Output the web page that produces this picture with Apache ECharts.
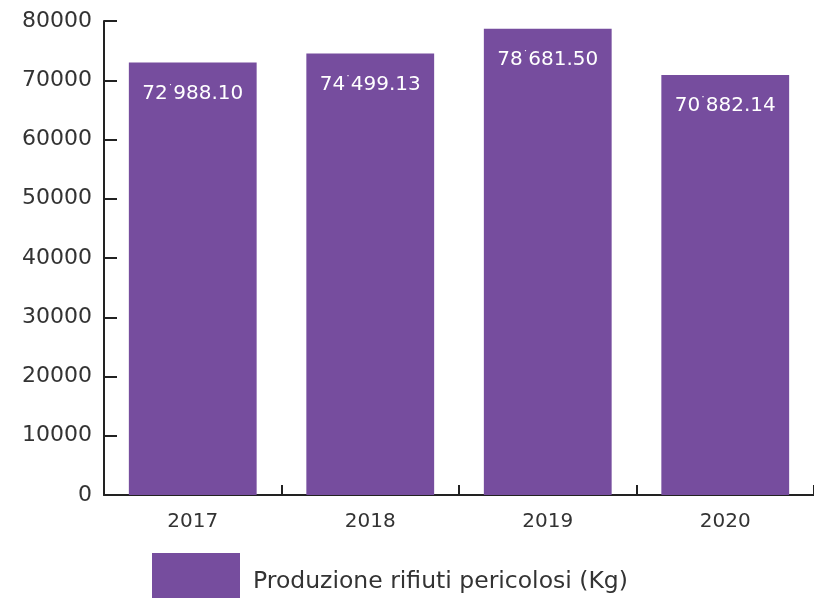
<!DOCTYPE html>
<html><head><meta charset="utf-8">
<script src="https://cdn.jsdelivr.net/npm/echarts@6/dist/echarts.min.js"></script>
<style>html,body{margin:0;padding:0;background:#fff}#c{width:814px;height:598px}</style>
</head><body><div id="c"></div>
<script>
const categories = ['2017', '2018', '2019', '2020'];
const values = [72988.10, 74499.13, 78681.50, 70882.14];
const seriesName = 'Produzione rifiuti pericolosi (Kg)';
const yTicks = [0, 10000, 20000, 30000, 40000, 50000, 60000, 70000, 80000];

function fmt(v) {
  const parts = v.toFixed(2).split('.');
  const intPart = parts[0].replace(/\B(?=(\d{3})+(?!\d))/g, '{s|\u02D9}');
  return intPart + '.' + parts[1];
}

const chart = echarts.init(document.getElementById('c'), null, {renderer: 'canvas'});
const font = 'DejaVu Sans';
chart.setOption({
  animation: false,
  textStyle: {fontFamily: font},
  grid: {left: 104, right: 0, top: 21, bottom: 103, containLabel: false},
  legend: {
    show: true, left: 152, top: 553, itemWidth: 88, itemHeight: 45, padding: 0, itemGap: 8,
    icon: 'rect',
    formatter: name => '{p|}{a|' + name + '}',
    textStyle: {
      fontSize: 23.5, color: '#333', fontFamily: font,
      rich: {
        p: {height: 36, width: 8},
        a: {fontSize: 23.5, color: '#333', fontFamily: font, verticalAlign: 'bottom', lineHeight: 26}
      }
    },
    data: [seriesName]
  },
  xAxis: {
    type: 'category', data: categories,
    axisLine: {lineStyle: {color: '#222', width: 2}},
    axisTick: {show: true, inside: true, length: 10, lineStyle: {color: '#222', width: 2}},
    axisLabel: {fontSize: 20, color: '#333', margin: 17, fontFamily: font}
  },
  yAxis: {
    type: 'value', min: yTicks[0], max: yTicks[yTicks.length - 1], interval: 10000,
    axisLine: {show: true, lineStyle: {color: '#222', width: 2}},
    axisTick: {show: true, inside: true, length: 13, lineStyle: {color: '#222', width: 2}},
    splitLine: {show: false},
    axisLabel: {fontSize: 22, color: '#333', margin: 12, fontFamily: font, formatter: v => String(v)}
  },
  series: [{
    name: seriesName, type: 'bar', data: values,
    barCategoryGap: '28%',
    itemStyle: {color: '#764D9E'},
    label: {
      show: true, position: 'insideTop', distance: 21,
      color: '#fff', fontSize: 20, fontFamily: font,
      formatter: p => fmt(p.value),
      rich: {s: {fontSize: 11, color: '#fff', fontFamily: font, verticalAlign: 'top', padding: [0, 0, 6, 0]}}
    }
  }]
});
</script></body></html>
